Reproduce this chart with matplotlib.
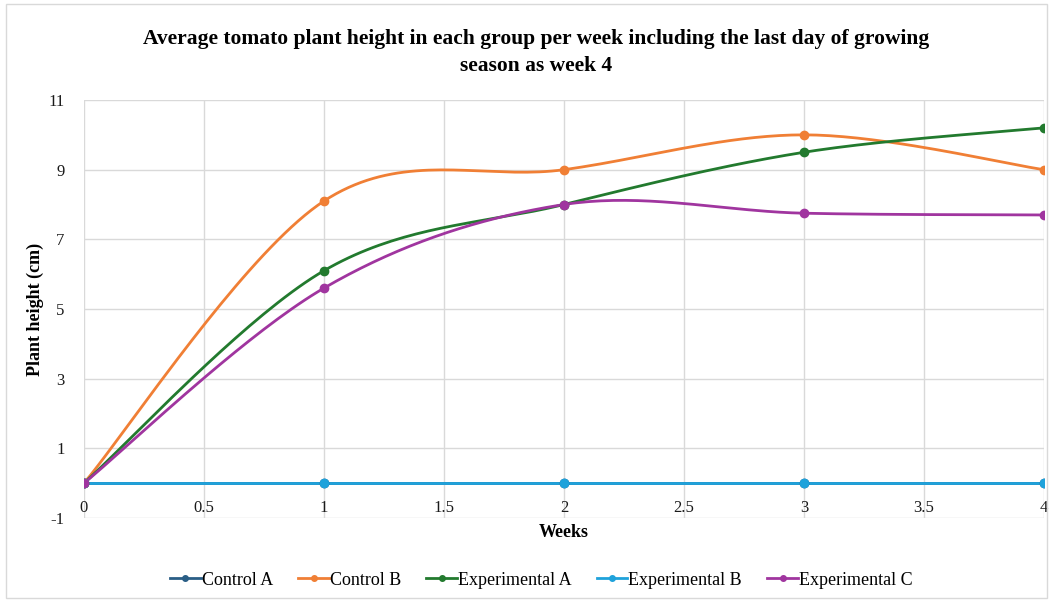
import numpy as np
import matplotlib.pyplot as plt
from matplotlib.patches import Rectangle

weeks = [0, 1, 2, 3, 4]
control_a = [0, 0, 0, 0, 0]
control_b = [0, 8.1, 9.0, 10.0, 9.0]
exp_a = [0, 6.1, 8.0, 9.5, 10.2]
exp_b = [0, 0, 0, 0, 0]
exp_c = [0, 5.6, 8.0, 7.75, 7.7]

names = ["Control A", "Control B", "Experimental A", "Experimental B", "Experimental C"]
colors = ["#2A5E86", "#F07F35", "#227A2E", "#1FA2DB", "#A0359F"]
xtick_labels = ["0", "0.5", "1", "1.5", "2", "2.5", "3", "3.5", "4"]
ytick_labels = ["-1", "1", "3", "5", "7", "9", "11"]


def smooth(x, y, n=40):
    # catmull-rom style bezier through the points (like a spreadsheet "smoothed line")
    P = np.column_stack([x, y]).astype(float)
    P = np.vstack([P[0], P, P[-1]])
    xs, ys = [], []
    t = np.linspace(0, 1, n)
    for i in range(1, len(P) - 2):
        p0, p1, p2, p3 = P[i - 1], P[i], P[i + 1], P[i + 2]
        c1 = p1 + (p2 - p0) / 6
        c2 = p2 - (p3 - p1) / 6
        seg = ((1 - t) ** 3)[:, None] * p1 + (3 * (1 - t) ** 2 * t)[:, None] * c1 \
            + (3 * (1 - t) * t ** 2)[:, None] * c2 + (t ** 3)[:, None] * p2
        xs.extend(seg[:, 0]); ys.extend(seg[:, 1])
    return xs, ys


serif = "Liberation Serif"
fig = plt.figure(figsize=(10.51, 6), dpi=100)
fig.patches.append(Rectangle((0.006, 0.004), 0.99, 0.99, transform=fig.transFigure,
                             fill=False, edgecolor="#D9D9D9", linewidth=1))
ax = fig.add_axes([0.0799, 0.1367, 0.9134, 0.6966])

for ys, name, c in zip([control_a, control_b, exp_a, exp_b, exp_c], names, colors):
    sx, sy = smooth(weeks, ys)
    ax.plot(sx, sy, color=c, linewidth=2, solid_capstyle="round", zorder=3)
    ax.plot(weeks, ys, "o", color=c, markersize=6, zorder=4)
    ax.plot([], [], "-o", color=c, linewidth=2, markersize=4, label=name)

ax.set_xlim(0, 4)
ax.set_ylim(-1, 11)
ax.set_xticks(np.arange(0, 4.01, 0.5))
ax.set_xticklabels(xtick_labels)
ax.set_yticks([-1, 1, 3, 5, 7, 9, 11])
ax.set_yticklabels(ytick_labels)
ax.grid(True, color="#D9D9D9", linewidth=1)
ax.set_axisbelow(True)
for s in ax.spines.values():
    s.set_visible(False)
ax.tick_params(axis="both", length=0, labelsize=12, labelcolor="#1a1a1a")
ax.tick_params(axis="x", pad=-13)
ax.tick_params(axis="y", pad=14)
for lbl in ax.get_xticklabels() + ax.get_yticklabels():
    lbl.set_fontfamily(serif)

ax.set_xlabel("Weeks", fontfamily=serif, fontsize=13, fontweight="bold", labelpad=4)
ax.set_ylabel("Plant height (cm)", fontfamily=serif, fontsize=13, fontweight="bold", labelpad=3)

fig.text(0.51, 0.912, "Average tomato plant height in each group per week including the last day of growing\nseason as week 4",
         ha="center", va="center", fontfamily=serif, fontsize=15.5, fontweight="bold", linespacing=1.45)

fig.legend(loc="center", bbox_to_anchor=(0.515, 0.033), ncol=5, frameon=False,
           prop={"family": serif, "size": 13}, handlelength=1.7, handletextpad=0.05, columnspacing=1.4)

fig.savefig("out.png", dpi=100)
